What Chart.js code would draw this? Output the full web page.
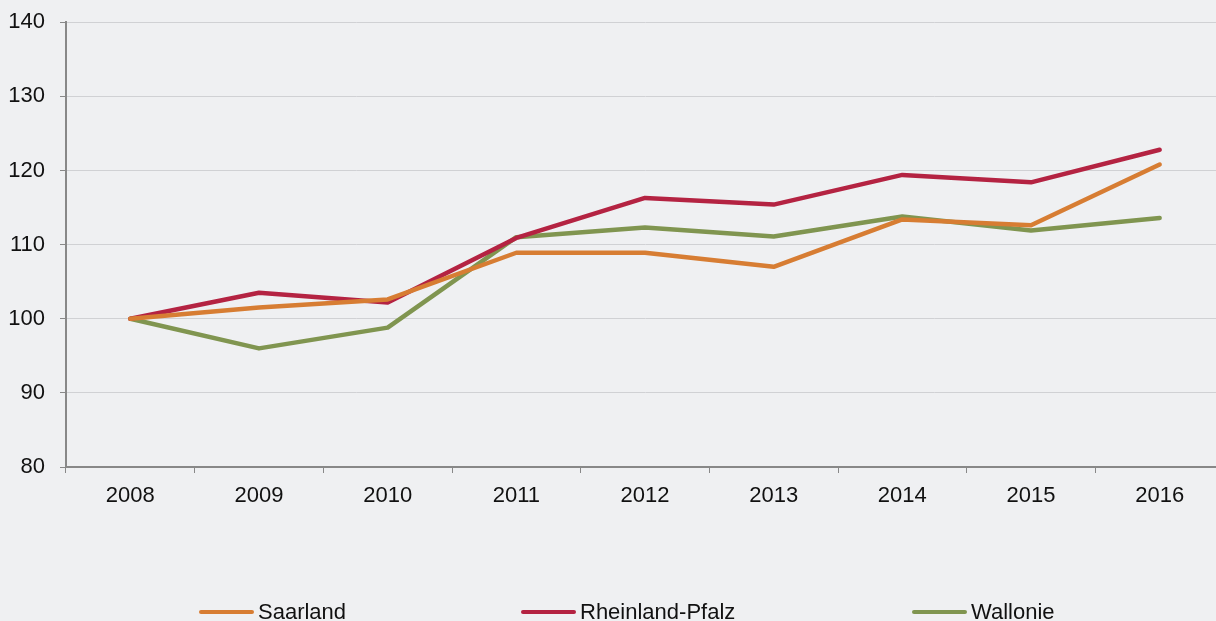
<!DOCTYPE html>
<html>
<head>
<meta charset="utf-8">
<script src="https://cdn.jsdelivr.net/npm/chart.js@4/dist/chart.umd.min.js"></script>
<style>
  html, body { margin: 0; padding: 0; background: #eff0f2; overflow: hidden; }
  #wrap { position: relative; width: 1216px; height: 621px; overflow: hidden; }
  #box { position: absolute; left: 0; top: -6px; width: 1224px; height: 627px; }
  #legend { position: absolute; left: 0; top: 598px; width: 1216px; height: 28px;
            font-family: "Liberation Sans", Arial, sans-serif; font-size: 22px; color: #111; }
  .item { position: absolute; top: 0; display: flex; align-items: center; height: 28px; white-space: nowrap; }
  .swatch { width: 55px; height: 4.5px; border-radius: 2px; margin-right: 4px; }
</style>
</head>
<body>
<div id="wrap">
  <div id="box"><canvas id="linechart"></canvas></div>
  <div id="legend"></div>
</div>
<script>
(function() {
    "use strict";

    var years = ['2008', '2009', '2010', '2011', '2012', '2013', '2014', '2015', '2016'];
    var saarland = [100, 101.5, 102.6, 108.9, 108.9, 107.0, 113.4, 112.6, 120.8];
    var rheinlandPfalz = [100, 103.5, 102.2, 110.9, 116.3, 115.4, 119.4, 118.4, 122.8];
    var wallonie = [100, 96.0, 98.8, 111.0, 112.3, 111.1, 113.8, 111.9, 113.6];
    var yTicks = [80, 90, 100, 110, 120, 130, 140];

    var legendLeft = [199, 521, 912];

    Chart.defaults.font.family = '"Liberation Sans", Arial, sans-serif';
    Chart.defaults.font.size = 22;
    Chart.defaults.color = '#111';

    var ctx = document.getElementById("linechart");

    var myChart = new Chart(ctx, {
        type: 'line',
        data: {
            labels: years,
            datasets: [{
                label: 'Saarland',
                data: saarland,
                borderColor: '#d77d33',
                backgroundColor: '#d77d33',
            }, {
                label: 'Rheinland-Pfalz',
                data: rheinlandPfalz,
                borderColor: '#b42342',
                backgroundColor: '#b42342',
            }, {
                label: 'Wallonie',
                data: wallonie,
                borderColor: '#809550',
                backgroundColor: '#809550',
            }]
        },
        options: {
            responsive: true,
            maintainAspectRatio: false,
            animation: false,
            layout: {
                padding: { left: 0, top: 11, right: 0, bottom: 0 },
            },
            elements: {
                line: { borderWidth: 4.5, tension: 0, borderCapStyle: 'round', borderJoinStyle: 'round' },
                point: { radius: 0, hoverRadius: 0 },
            },
            plugins: {
                legend: { display: false },
                tooltip: { enabled: false },
            },
            scales: {
                x: {
                    offset: true,
                    afterFit: function(axis) { axis.height = 154; },
                    grid: {
                        offset: true,
                        drawOnChartArea: false,
                        drawTicks: true,
                        tickLength: 6,
                        tickColor: '#888',
                    },
                    border: { color: '#888', width: 2 },
                    ticks: { padding: 10, maxRotation: 0 },
                },
                y: {
                    min: 80,
                    max: 140,
                    afterFit: function(axis) { axis.width = 66; },
                    afterBuildTicks: function(axis) {
                        axis.ticks = yTicks.map(function(v) { return { value: v }; });
                    },
                    grid: {
                        color: '#d0d1d4',
                        lineWidth: 1,
                        drawTicks: true,
                        tickLength: 6,
                        tickColor: '#888',
                    },
                    border: { color: '#888', width: 2 },
                    ticks: { padding: 15 },
                },
            },
        }
    });

    // legend drawn as html under the plot
    var legend = document.getElementById("legend");
    myChart.data.datasets.forEach(function(ds, i) {
        var item = document.createElement("div");
        item.className = "item";
        item.style.left = legendLeft[i] + "px";
        var sw = document.createElement("span");
        sw.className = "swatch";
        sw.style.background = ds.borderColor;
        var txt = document.createElement("span");
        txt.textContent = ds.label;
        item.appendChild(sw);
        item.appendChild(txt);
        legend.appendChild(item);
    });

})();
</script>
</body>
</html>
